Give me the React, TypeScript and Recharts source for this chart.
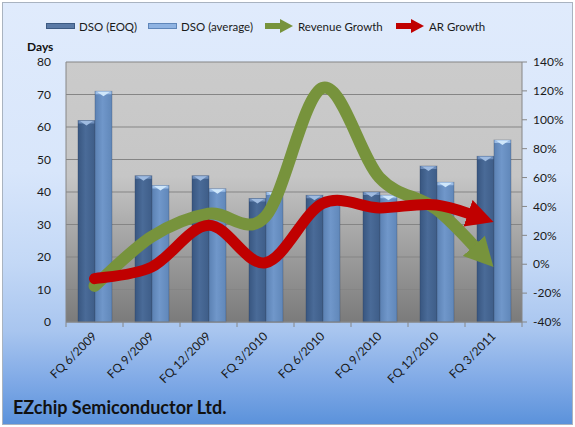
import React from 'react';
import { ComposedChart, Bar, Line, XAxis, YAxis, CartesianGrid, Legend } from 'recharts';

const categories = ['FQ 6/2009', 'FQ 9/2009', 'FQ 12/2009', 'FQ 3/2010', 'FQ 6/2010', 'FQ 9/2010', 'FQ 12/2010', 'FQ 3/2011'];
const dsoEoq = [62, 45, 45, 38, 39, 40, 48, 51];
const dsoAverage = [71, 42, 41, 40, 38, 39, 43, 56];
const revenueGrowth = [-15, 19, 35, 33, 122, 60, 38, -2];
const arGrowth = [-10, -2, 27, 1, 42, 39, 41, 29];

const daysTicks = [0, 10, 20, 30, 40, 50, 60, 70, 80];
const pctTicks = [-40, -20, 0, 20, 40, 60, 80, 100, 120, 140];

const chartTitle = 'EZchip Semiconductor Ltd.';
const leftAxisTitle = 'Days';

const data = categories.map((c, i) => ({
  name: c,
  eoq: dsoEoq[i],
  avg: dsoAverage[i],
  rev: revenueGrowth[i],
  ar: arGrowth[i],
}));

const FONT = 'Lato, "Liberation Sans", sans-serif';
const GREEN = '#77933c';
const RED = '#c00000';

type Pt = [number, number];
const lerp = (a: Pt, b: Pt, t: number): Pt => [a[0] + (b[0] - a[0]) * t, a[1] + (b[1] - a[1]) * t];

// Excel-like smoothed line (Catmull-Rom), with the end shortened to leave room for an arrowhead
const arrowCurve = (shorten: number) => (context: any) => {
  let pts: Pt[] = [];
  return {
    areaStart() {},
    areaEnd() {},
    lineStart() {
      pts = [];
    },
    point(x: number, y: number) {
      pts.push([+x, +y]);
    },
    lineEnd() {
      const n = pts.length;
      if (n === 0) return;
      context.moveTo(pts[0][0], pts[0][1]);
      for (let i = 0; i < n - 1; i++) {
        const p0 = pts[Math.max(0, i - 1)];
        const p1 = pts[i];
        const p2 = pts[i + 1];
        const p3 = pts[Math.min(n - 1, i + 2)];
        let c1: Pt = [p1[0] + (p2[0] - p0[0]) / 6, p1[1] + (p2[1] - p0[1]) / 6];
        let c2: Pt = [p2[0] - (p3[0] - p1[0]) / 6, p2[1] - (p3[1] - p1[1]) / 6];
        let e: Pt = p2;
        if (i === n - 2 && shorten > 0) {
          const C1 = c1;
          const C2 = c2;
          const bez = (t: number): Pt => {
            const a = lerp(p1, C1, t), b = lerp(C1, C2, t), c = lerp(C2, p2, t);
            const d = lerp(a, b, t), f = lerp(b, c, t);
            return lerp(d, f, t);
          };
          let lo = 0;
          let hi = 1;
          for (let k = 0; k < 40; k++) {
            const m = (lo + hi) / 2;
            const q = bez(m);
            if (Math.hypot(q[0] - p2[0], q[1] - p2[1]) > shorten) lo = m;
            else hi = m;
          }
          const t = lo;
          const a = lerp(p1, C1, t), b = lerp(C1, C2, t), c = lerp(C2, p2, t);
          const d = lerp(a, b, t), f = lerp(b, c, t);
          c1 = a;
          c2 = d;
          e = lerp(d, f, t);
        }
        context.bezierCurveTo(c1[0], c1[1], c2[0], c2[1], e[0], e[1]);
      }
    },
  };
};

const greenCurve = arrowCurve(28);
const redCurve = arrowCurve(26);

const makeBarShape = (gradId: string, capColor: string, triColor: string) => (props: any) => {
  const { x, y, width, height } = props;
  if (!height || height <= 0) return <g />;
  return (
    <g>
      <rect x={x} y={y} width={width} height={height} fill={`url(#${gradId})`} stroke="rgba(40,60,90,0.35)" strokeWidth={0.8} />
      <rect x={x + 0.5} y={y} width={width - 1} height={3} fill={capColor} />
      <polygon points={`${x + 2},${y + 0.5} ${x + width - 2},${y + 0.5} ${x + width / 2},${y + 5}`} fill={triColor} />
    </g>
  );
};

const eoqShape = makeBarShape('gradEoq', '#6e8dba', '#9fbbe0');
const avgShape = makeBarShape('gradAvg', '#9cbde6', '#cfe7fb');

const XTick = (props: any) => {
  const { x, y, payload, index } = props;
  const half = 28.5;
  return (
    <g>
      <line x1={x - half} x2={x - half} y1={y} y2={y + 5} stroke="#868686" />
      {index === categories.length - 1 && <line x1={x + half} x2={x + half} y1={y} y2={y + 5} stroke="#868686" />}
      <text
        transform={`translate(${x + 3},${y + 15}) rotate(-45)`}
        textAnchor="end"
        fontSize={12}
        fontFamily={FONT}
        fill="#1a1a1a"
      >
        {payload.value}
      </text>
    </g>
  );
};

const legendItems = [
  { label: 'DSO (EOQ)', kind: 'bar', color: 'eoq', left: 46 },
  { label: 'DSO (average)', kind: 'bar', color: 'avg', left: 148 },
  { label: 'Revenue Growth', kind: 'arrow', color: GREEN, left: 265 },
  { label: 'AR Growth', kind: 'arrow', color: RED, left: 396 },
];

const renderLegend = () => (
  <div style={{ position: 'relative', width: 575, height: 22, fontFamily: FONT }}>
    {legendItems.map((it) => (
      <div key={it.label} style={{ position: 'absolute', left: it.left, top: 0, height: 22, display: 'flex', alignItems: 'center' }}>
        <svg width={30} height={16} style={{ display: 'block' }}>
          {it.kind === 'bar' ? (
            <rect
              x={0.5}
              y={5.5}
              width={28}
              height={5}
              fill={it.color === 'eoq' ? '#5b7aa6' : '#8fb3e2'}
              stroke={it.color === 'eoq' ? '#3d5a82' : '#5f86ba'}
            />
          ) : (
            <g>
              <rect x={0} y={5} width={17} height={6} fill={it.color} />
              <polygon points="15,1 28,8 15,15" fill={it.color} />
            </g>
          )}
        </svg>
        <span style={{ marginLeft: 3, fontSize: 11.5, color: '#1a1a1a', whiteSpace: 'nowrap' }}>{it.label}</span>
      </div>
    ))}
  </div>
);

export default function App() {
  return (
    <div style={{ position: 'absolute', left: 0, top: 0, width: 575, height: 427, background: '#ffffff', overflow: 'hidden' }}>
      <div
        style={{
          position: 'absolute',
          left: 2,
          top: 2,
          width: 569,
          height: 421,
          border: '1px solid #a9b3c0',
          background: 'linear-gradient(to bottom, #e0ebfc 0%, #d8e6fb 40%, #c3d8f6 62%, #a8c5ef 78%, #7fa9e6 90%, #5b92db 100%)',
        }}
      />
      <div style={{ position: 'absolute', left: 0, top: 0 }}>
        <ComposedChart
          width={575}
          height={427}
          data={data}
          margin={{ top: 40, right: 0, bottom: 45, left: 0 }}
          barGap={0}
          barCategoryGap="21%"
        >
          <defs>
            <linearGradient id="plotBg" x1="0" y1="0" x2="0" y2="1">
              <stop offset="0%" stopColor="#cbcbcb" />
              <stop offset="44%" stopColor="#c6c6c6" />
              <stop offset="60%" stopColor="#afafaf" />
              <stop offset="100%" stopColor="#7b7b7b" />
            </linearGradient>
            <linearGradient id="gradEoq" x1="0" y1="0" x2="1" y2="0">
              <stop offset="0%" stopColor="#385680" />
              <stop offset="45%" stopColor="#4a6b98" />
              <stop offset="100%" stopColor="#3e5d88" />
            </linearGradient>
            <linearGradient id="gradAvg" x1="0" y1="0" x2="1" y2="0">
              <stop offset="0%" stopColor="#5b81b3" />
              <stop offset="45%" stopColor="#7097ca" />
              <stop offset="100%" stopColor="#6087b9" />
            </linearGradient>
            <marker id="arrowGreen" markerUnits="userSpaceOnUse" markerWidth={30} markerHeight={30} viewBox="0 0 30 30" refX={1} refY={15} orient="auto">
              <path d="M0,0 L29,15 L0,30 Z" fill={GREEN} />
            </marker>
            <marker id="arrowRed" markerUnits="userSpaceOnUse" markerWidth={28} markerHeight={28} viewBox="0 0 28 28" refX={1} refY={14} orient="auto">
              <path d="M0,0 L27,14 L0,28 Z" fill={RED} />
            </marker>
          </defs>
          <CartesianGrid yAxisId="left" vertical={false} stroke="#858585" fill="url(#plotBg)" fillOpacity={1} />
          <Legend verticalAlign="top" content={renderLegend} wrapperStyle={{ top: 15, left: 0, width: 575, height: 22 }} />
          <XAxis
            dataKey="name"
            height={60}
            interval={0}
            tickSize={0}
            tickMargin={0}
            tick={<XTick />}
            axisLine={{ stroke: '#868686' }}
          />
          <YAxis
            yAxisId="left"
            width={66}
            domain={[0, 80]}
            ticks={daysTicks}
            interval={0}
            tickLine={false}
            tickSize={0}
            tickMargin={15}
            axisLine={{ stroke: '#868686' }}
            tick={{ fontSize: 12, fontFamily: FONT, fill: '#1a1a1a' }}
          />
          <YAxis
            yAxisId="right"
            orientation="right"
            width={53}
            domain={[-40, 140]}
            ticks={pctTicks}
            interval={0}
            tickFormatter={(v: number) => `${v}%`}
            tickLine={{ stroke: '#868686' }}
            tickSize={5}
            tickMargin={6}
            axisLine={{ stroke: '#868686' }}
            tick={{ fontSize: 12, fontFamily: FONT, fill: '#1a1a1a' }}
          />
          <Bar yAxisId="left" dataKey="eoq" name="DSO (EOQ)" shape={eoqShape} isAnimationActive={false} />
          <Bar yAxisId="left" dataKey="avg" name="DSO (average)" shape={avgShape} isAnimationActive={false} />
          <Line
            yAxisId="right"
            dataKey="rev"
            name="Revenue Growth"
            type={greenCurve as any}
            stroke={GREEN}
            strokeWidth={12}
            strokeLinecap="round"
            dot={false}
            activeDot={false}
            markerEnd="url(#arrowGreen)"
            isAnimationActive={false}
          />
          <Line
            yAxisId="right"
            dataKey="ar"
            name="AR Growth"
            type={redCurve as any}
            stroke={RED}
            strokeWidth={11}
            strokeLinecap="round"
            dot={false}
            activeDot={false}
            markerEnd="url(#arrowRed)"
            isAnimationActive={false}
          />
        </ComposedChart>
      </div>
      <div style={{ position: 'absolute', left: 27, top: 40, fontFamily: FONT, fontWeight: 700, fontSize: 12, lineHeight: '13px', color: '#111' }}>
        {leftAxisTitle}
      </div>
      <div style={{ position: 'absolute', left: 13, top: 397, fontFamily: FONT, fontWeight: 700, fontSize: 18, lineHeight: '20px', color: '#111' }}>
        {chartTitle}
      </div>
    </div>
  );
}
